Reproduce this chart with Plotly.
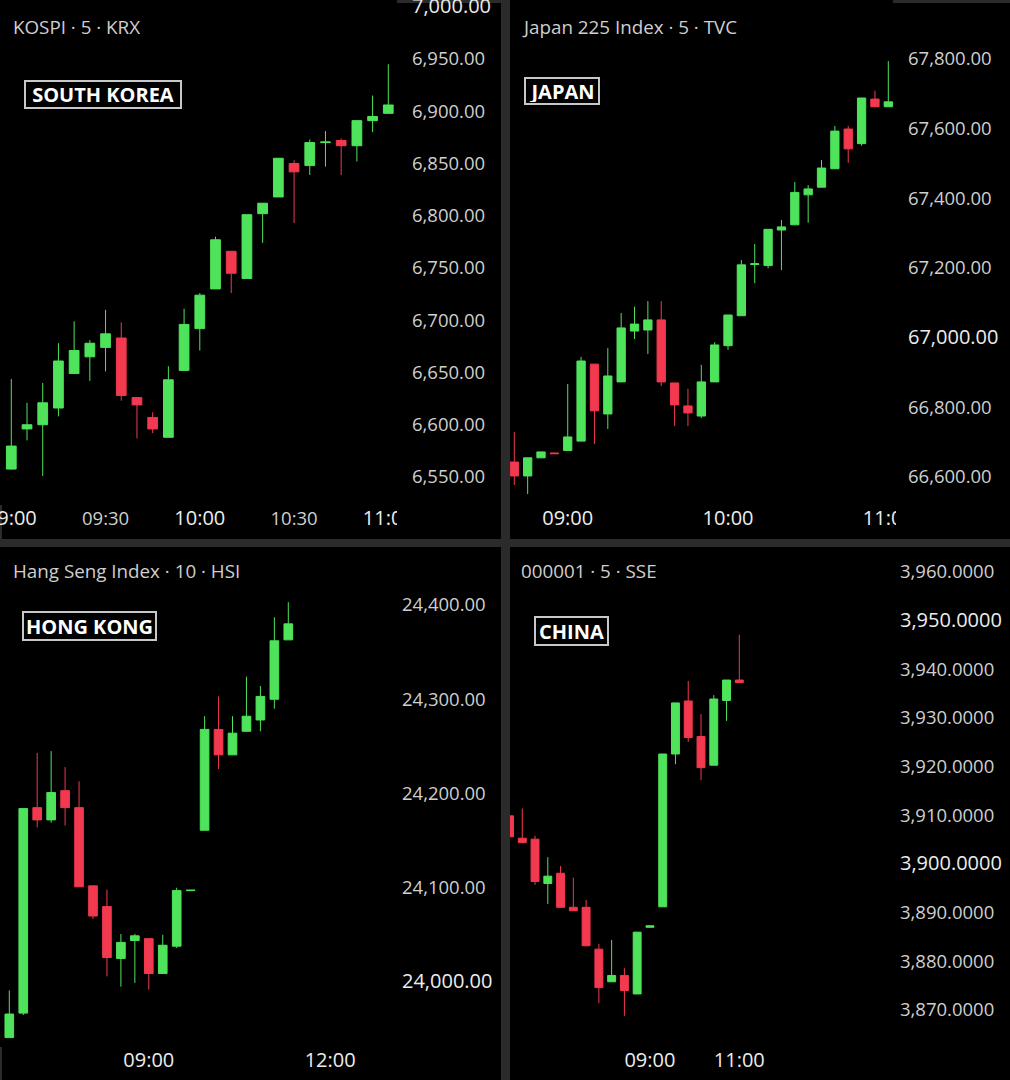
import plotly.graph_objects as go

W, H = 1010, 1080

# ---------------- DATA ----------------
# KOSPI, 5-minute candles
kospi_open  = [6557.6, 6596, 6600, 6616, 6649, 6665, 6674, 6683, 6626, 6607, 6588, 6652, 6692,
               6730, 6766, 6740, 6802, 6818, 6850, 6848, 6870, 6872, 6867, 6891, 6898]
kospi_high  = [6643.7, 6621, 6640, 6678, 6699, 6681, 6710, 6698, 6626, 6612, 6656, 6711, 6726,
               6780, 6766, 6801, 6812, 6855, 6853, 6873, 6881, 6874, 6891, 6915, 6945]
kospi_low   = [6557.0, 6585, 6551, 6608, 6649, 6642, 6651, 6623, 6587, 6592, 6588, 6652, 6671,
               6730, 6726, 6740, 6774, 6818, 6793, 6839, 6847, 6839, 6852, 6880, 6898]
kospi_close = [6579.6, 6600, 6621, 6661, 6671, 6678, 6687, 6628, 6619, 6596, 6643, 6696, 6724,
               6777, 6745, 6801, 6812, 6855, 6842, 6870, 6870.6, 6867, 6891, 6895, 6906]
kospi_xticks = [0, 6, 12, 18, 24]
kospi_xlabels = ["09:00", "09:30", "10:00", "10:30", "11:00"]
kospi_xmajor = [True, False, True, False, True]
kospi_yticks = [6550, 6600, 6650, 6700, 6750, 6800, 6850, 6900, 6950, 7000]
kospi_ymajor = [7000]

# Japan 225, 5-minute candles
japan_open  = [66643, 66603, 66655, 66669, 66676, 66703, 66924, 66781, 66873, 67019, 67022, 67051,
               66870, 66804, 66775, 66873, 66977, 67063, 67210, 67207, 67309, 67324, 67410, 67432,
               67485, 67599, 67557, 67685, 67663]
japan_high  = [66729, 66655, 66672, 66669, 66867, 66945, 66924, 66970, 67071, 67089, 67105, 67105,
               66870, 66853, 66922, 66987, 67065, 67223, 67269, 67311, 67338, 67447, 67438, 67510,
               67608, 67608, 67688, 67709, 67794]
japan_low   = [66577, 66551, 66655, 66667, 66676, 66703, 66695, 66738, 66873, 66996, 66953, 66861,
               66746, 66746, 66769, 66873, 66965, 67063, 67156, 67199, 67194, 67324, 67330, 67432,
               67485, 67502, 67551, 67663, 67663]
japan_close = [66603, 66655, 66672, 66667, 66715, 66933, 66790, 66890, 67028, 67039, 67051, 66873,
               66807, 66784, 66873, 66979, 67065, 67209, 67212, 67311, 67318, 67417, 67427, 67487,
               67593, 67542, 67688, 67663, 67677]
japan_xticks = [4, 16, 28]
japan_xlabels = ["09:00", "10:00", "11:00"]
japan_xmajor = [True, True, True]
japan_yticks = [66600, 66800, 67000, 67200, 67400, 67600, 67800]
japan_ymajor = [67000]

# Hang Seng, 10-minute candles
hk_open  = [23941, 23967, 24185, 24172, 24203, 24185, 24102, 24080, 24025, 24044, 24046, 24009,
            24038, 24097, 24161, 24268, 24241, 24266, 24278, 24300, 24363]
hk_high  = [23991, 24184, 24243, 24245, 24228, 24213, 24102, 24098, 24051, 24051, 24046, 24050,
            24100, 24097.4, 24282, 24303, 24282, 24324, 24314, 24387, 24403]
hk_low   = [23941, 23965, 24164, 24169, 24166, 24101, 24067, 24006, 23995, 23999, 23992, 24009,
            24036, 24097, 24161, 24226, 24241, 24266, 24266, 24290, 24363]
hk_close = [23966, 24184, 24172, 24201, 24185, 24101, 24070, 24026, 24042, 24049, 24009, 24039,
            24097, 24097.4, 24268, 24241, 24264, 24282, 24303, 24362, 24380]
hk_xticks = [10, 23]
hk_xlabels = ["09:00", "12:00"]
hk_xmajor = [True, True]
hk_yticks = [24000, 24100, 24200, 24300, 24400]
hk_ymajor = [24000]

# Shanghai Composite, 5-minute candles
cn_open  = [3909.9, 3905.3, 3905.1, 3896.0, 3898.1, 3891.1, 3891.1, 3882.5, 3875.8, 3877.1,
            3873.3, 3887.0, 3891.2, 3922.6, 3933.5, 3926.2, 3920.3, 3933.6, 3937.8]
cn_high  = [3909.9, 3911.4, 3905.8, 3901.4, 3899.6, 3897.2, 3892.6, 3883.6, 3884.4, 3878.6,
            3886.0, 3887.3, 3922.6, 3933.1, 3937.6, 3930.8, 3934.7, 3937.8, 3947.1]
cn_low   = [3902.9, 3904.4, 3895.7, 3891.8, 3891.1, 3890.4, 3883.2, 3871.4, 3875.8, 3868.8,
            3873.3, 3887.0, 3891.2, 3920.5, 3925.1, 3917.2, 3920.3, 3929.4, 3937.3]
cn_close = [3905.6, 3904.4, 3896.4, 3897.5, 3891.1, 3890.4, 3883.2, 3874.6, 3877.1, 3874.0,
            3886.0, 3887.3, 3922.6, 3933.1, 3926.0, 3919.8, 3933.9, 3937.8, 3937.3]
cn_xticks = [11, 18]
cn_xlabels = ["09:00", "11:00"]
cn_xmajor = [True, True]
cn_yticks = [3870, 3880, 3890, 3900, 3910, 3920, 3930, 3940, 3950, 3960]
cn_ymajor = [3900, 3950]

titles = ["KOSPI · 5 · KRX", "Japan 225 Index · 5 · TVC", "Hang Seng Index · 10 · HSI", "000001 · 5 · SSE"]
countries = ["SOUTH KOREA", "JAPAN", "HONG KONG", "CHINA"]

# ---------------- STYLE ----------------
GREEN = "#4fe35b"
RED = "#f2394f"
TXT = "#cfcfcf"
MAJ = "#ededed"
FONT = "Open Sans"
FS = 18.5
FS_TITLE = 18.8

def fmt_major(text, major):
    if major:
        return "<span style='font-size:20px;color:%s'>%s</span>" % (MAJ, text)
    return text

panels = [
    dict(o=kospi_open, h=kospi_high, l=kospi_low, c=kospi_close,
         box=(0, 397, 0, 505), xcal=(0, 11.3, 24, 388.3), ycal=(6950, 59, 6550, 477),
         xt=kospi_xticks, xl=kospi_xlabels, xm=kospi_xmajor, yt=kospi_yticks, ym=kospi_ymajor, dec=2,
         title_pos=(11, 27), tag_pos=(24, 80, 182, 109)),
    dict(o=japan_open, h=japan_high, l=japan_low, c=japan_close,
         box=(510, 893, 0, 505), xcal=(0, 514.3, 28, 888.3), ycal=(67800, 59, 66600, 477),
         xt=japan_xticks, xl=japan_xlabels, xm=japan_xmajor, yt=japan_yticks, ym=japan_ymajor, dec=2,
         title_pos=(520, 27), tag_pos=(524, 77, 600, 105)),
    dict(o=hk_open, h=hk_high, l=hk_low, c=hk_close,
         box=(0, 387, 547, 1047), xcal=(0, 9.3, 20, 288.3), ycal=(24400, 605, 24000, 982),
         xt=hk_xticks, xl=hk_xlabels, xm=hk_xmajor, yt=hk_yticks, ym=hk_ymajor, dec=2,
         title_pos=(11, 571), tag_pos=(22, 611, 157, 641)),
    dict(o=cn_open, h=cn_high, l=cn_low, c=cn_close,
         box=(510, 885, 547, 1047), xcal=(0, 509.5, 18, 739.3), ycal=(3960, 572, 3870, 1010),
         xt=cn_xticks, xl=cn_xlabels, xm=cn_xmajor, yt=cn_yticks, ym=cn_ymajor, dec=4,
         title_pos=(519, 571), tag_pos=(534, 616, 609, 646)),
]

fig = go.Figure()
layout = dict(
    width=W, height=H, margin=dict(l=0, r=0, t=0, b=0, pad=0), autosize=False,
    paper_bgcolor="#2b2b2b", plot_bgcolor="#000000",
    showlegend=False, boxgap=0.38, boxgroupgap=0,
    font=dict(family=FONT, size=FS, color=TXT),
    shapes=[], annotations=[],
)

def px2x(p):
    return p / W

def px2y(p):
    return 1 - p / H

for k, p in enumerate(panels):
    n = k + 1
    xs = "" if n == 1 else str(n)
    L, R, T, B = p["box"]
    i0, p0, i1, p1 = p["xcal"]
    sx = (p1 - p0) / (i1 - i0)
    xr = [i0 + (L - p0) / sx, i0 + (R - p0) / sx]
    v0, q0, v1, q1 = p["ycal"]
    sy = (v1 - v0) / (q1 - q0)
    yr = [v0 + (B - q0) * sy, v0 + (T - q0) * sy]

    idx = list(range(len(p["o"])))
    fig.add_trace(go.Candlestick(
        x=idx, open=p["o"], high=p["h"], low=p["l"], close=p["c"],
        xaxis="x" + xs, yaxis="y" + xs,
        increasing=dict(line=dict(color=GREEN, width=1), fillcolor=GREEN),
        decreasing=dict(line=dict(color=RED, width=1), fillcolor=RED),
        whiskerwidth=0, hoverinfo="skip",
    ))

    ytext = []
    for v in p["yt"]:
        s = ("{:,.%df}" % p["dec"]).format(v)
        ytext.append(fmt_major(s, v in p["ym"]))
    xtext = [fmt_major(t, m) for t, m in zip(p["xl"], p["xm"])]

    layout["xaxis" + xs] = dict(
        domain=[px2x(L), px2x(R)], range=xr, anchor="y" + xs, automargin=False,
        tickmode="array", tickvals=p["xt"], ticktext=xtext,
        showgrid=False, zeroline=False, showline=False, ticks="",
        ticklabeloverflow="allow",
        tickfont=dict(family=FONT, size=FS, color=TXT),
        rangeslider=dict(visible=False), fixedrange=True,
    )
    layout["yaxis" + xs] = dict(
        domain=[px2y(B), px2y(T)], range=yr, anchor="x" + xs, side="right", automargin=False,
        tickmode="array", tickvals=p["yt"], ticktext=ytext,
        showgrid=False, zeroline=False, showline=False, ticks="",
        ticklabelstandoff=14, ticklabeloverflow="allow",
        tickfont=dict(family=FONT, size=FS, color=TXT), fixedrange=True,
    )

    # title
    tx, ty = p["title_pos"]
    layout["annotations"].append(dict(
        xref="paper", yref="paper", x=px2x(tx), y=px2y(ty), xanchor="left", yanchor="middle",
        text=titles[k], showarrow=False, font=dict(family=FONT, size=FS_TITLE, color=TXT)))
    # country tag
    a, b, c, d = p["tag_pos"]
    layout["annotations"].append(dict(
        xref="paper", yref="paper", x=px2x((a + c) / 2), y=px2y((b + d) / 2),
        xanchor="center", yanchor="middle", text="<b>%s</b>" % countries[k], showarrow=False,
        font=dict(family=FONT, size=20, color="#ffffff"),
        bordercolor="#c8c8c8", borderwidth=2, borderpad=1,
        width=(c - a) - 6, height=(d - b) - 6, bgcolor="#000000"))

# panel backgrounds
for (x0, x1, y0, y1) in [(2, 501, 3, 539), (510, 1010, 3, 539), (2, 501, 547, 1080), (510, 1010, 547, 1080)]:
    layout["shapes"].append(dict(type="rect", xref="paper", yref="paper", layer="below",
                                 x0=px2x(x0), x1=px2x(x1), y0=px2y(y1), y1=px2y(y0),
                                 fillcolor="#000000", line=dict(width=0)))
# time scale cut-off at the right of the top panels
for (x0, x1, y0, y1) in [(397, 501, 506, 539), (896, 1010, 506, 539)]:
    layout["shapes"].append(dict(type="rect", xref="paper", yref="paper", layer="above",
                                 x0=px2x(x0), x1=px2x(x1), y0=px2y(y1), y1=px2y(y0),
                                 fillcolor="#000000", line=dict(width=0)))

fig.update_layout(**layout)
fig.write_html("out.html", config={"responsive": False, "displayModeBar": False})
